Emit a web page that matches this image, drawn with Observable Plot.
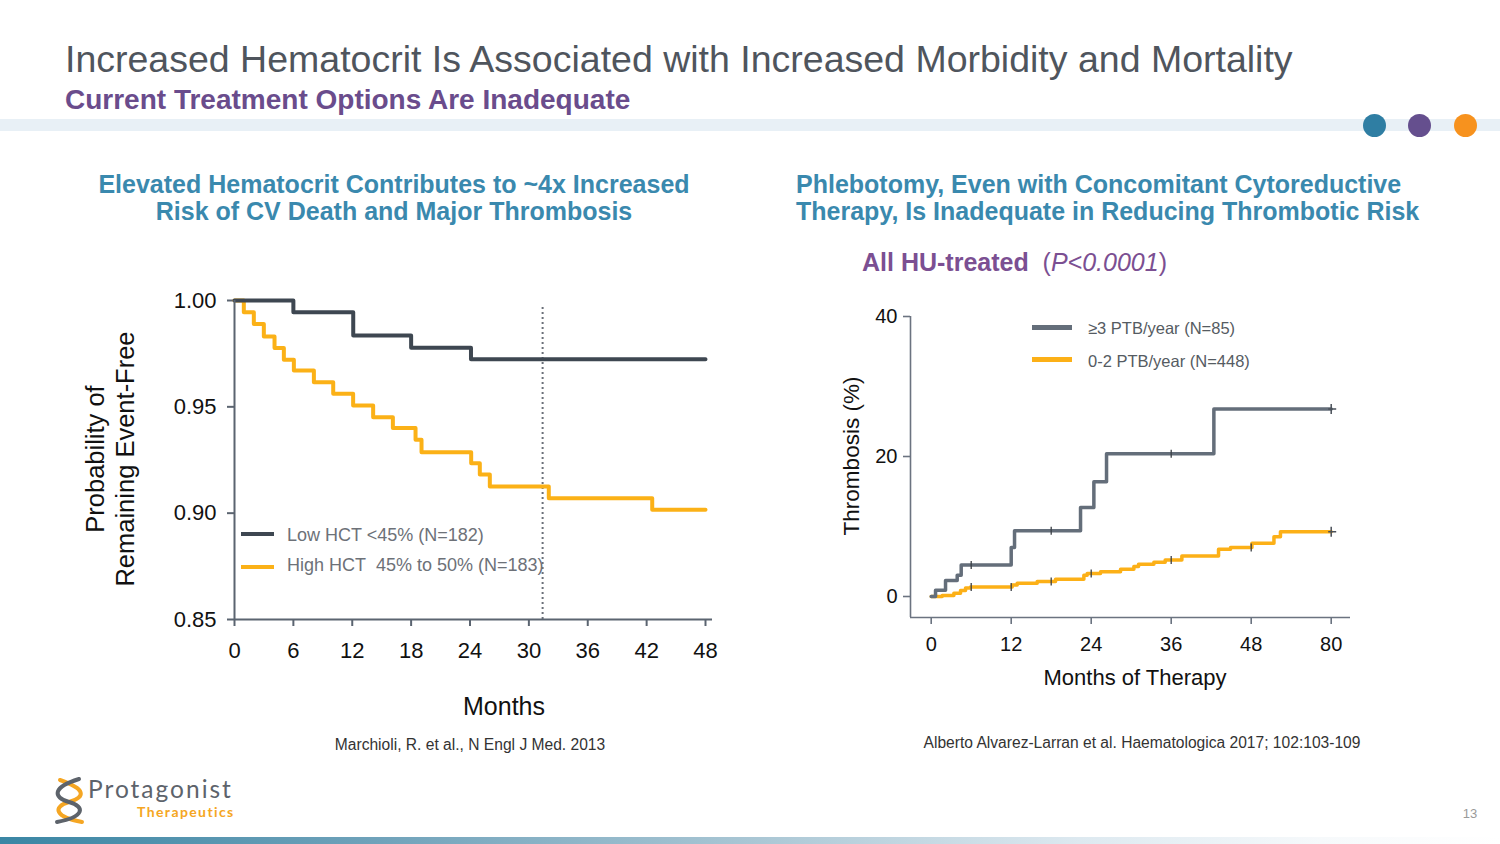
<!DOCTYPE html>
<html>
<head>
<meta charset="utf-8">
<script src="https://cdn.jsdelivr.net/npm/d3@7"></script>
<script src="https://cdn.jsdelivr.net/npm/@observablehq/plot@0.6"></script>
<style>
  html, body { margin: 0; padding: 0; }
  body { width: 1500px; height: 844px; position: relative; overflow: hidden; background: #fff;
         font-family: "Liberation Sans", Arial, Helvetica, sans-serif; }
  .abs { position: absolute; white-space: nowrap; line-height: 1; }
  .title { left: 65px; top: 41px; font-size: 37.5px; color: #4f555d; }
  .subtitle { left: 65px; top: 86px; font-size: 28px; font-weight: bold; color: #6a4c8c; }
  .band { position: absolute; left: 0; top: 119px; width: 1500px; height: 12px; background: #e8f0f6; }
  .dot { position: absolute; width: 23px; height: 23px; border-radius: 50%; top: 114px; }
  .ptitle { top: 171px; font-size: 25px; line-height: 27px; font-weight: bold; color: #3a89ae; }
  .hu { left: 862px; top: 250px; font-size: 25px; color: #7b4f92; }
  .cite { font-size: 15.6px; color: #333; transform: translate(-50%, -50%); }
  .axt { color: #111; transform: translate(-50%, -50%); }
  .rot { transform: translate(-50%, -50%) rotate(-90deg); }
  .leg { font-size: 18px; color: #6d7178; transform: translateY(-50%); }
  .sw { position: absolute; height: 4px; }
  .plotbox { position: absolute; }
  .plotbox svg { overflow: visible; }
  #leftPlot [aria-label="y-axis tick"] path, #leftPlot [aria-label="x-axis tick"] path,
  #leftPlot .tick line { stroke: #5b6470; stroke-width: 2; }
  #rightPlot [aria-label="y-axis tick"] path, #rightPlot [aria-label="x-axis tick"] path,
  #rightPlot .tick line { stroke: #6b7380; stroke-width: 1.6; }
  .bottombar { position: absolute; left: 0; top: 837px; width: 1500px; height: 7px;
    background: linear-gradient(to right, #3a86a4 0%, #6fa2ba 25%, #a9c6d4 50%, #dde9f0 72%, #f6f9fb 88%, #ffffff 100%); }
</style>
</head>
<body>
<div class="abs title">Increased Hematocrit Is Associated with Increased Morbidity and Mortality</div>
<div class="abs subtitle">Current Treatment Options Are Inadequate</div>
<div class="band"></div>
<div class="dot" style="left:1363px;background:#2f7ea3"></div>
<div class="dot" style="left:1408px;background:#654f8e"></div>
<div class="dot" style="left:1454px;background:#f7921e"></div>

<div class="abs ptitle" style="left:394px;transform:translateX(-50%);text-align:center">Elevated Hematocrit Contributes to ~4x Increased<br>Risk of CV Death and Major Thrombosis</div>
<div class="abs ptitle" style="left:796px;text-align:left">Phlebotomy, Even with Concomitant Cytoreductive<br>Therapy, Is Inadequate in Reducing Thrombotic Risk</div>
<div class="abs hu"><b>All HU-treated</b>&nbsp; (<i>P</i><i>&lt;0.0001</i>)</div>

<div id="leftPlot" class="plotbox" style="left:60px;top:280px"></div>
<div id="rightPlot" class="plotbox" style="left:820px;top:295px"></div>

<!-- left axis titles -->
<div class="abs axt rot" style="left:96px;top:459px;font-size:25.5px">Probability of</div>
<div class="abs axt rot" style="left:126px;top:459px;font-size:25.5px">Remaining Event-Free</div>
<div class="abs axt" style="left:504px;top:706px;font-size:25px">Months</div>
<!-- left legend -->
<div class="sw" style="left:241px;top:532px;width:33px;background:#3e4751"></div>
<div class="abs leg" style="left:287px;top:535px">Low HCT &lt;45% (N=182)</div>
<div class="sw" style="left:241px;top:565px;width:33px;background:#fbb117"></div>
<div class="abs leg" style="left:287px;top:565px">High HCT&nbsp; 45% to 50% (N=183)</div>

<!-- right axis titles -->
<div class="abs axt rot" style="left:852px;top:456px;font-size:22.5px">Thrombosis (%)</div>
<div class="abs axt" style="left:1135px;top:678px;font-size:22px">Months of Therapy</div>
<!-- right legend -->
<div class="sw" style="left:1032px;top:325px;width:40px;height:5px;background:#646e7a"></div>
<div class="abs leg" style="left:1088px;top:328px;font-size:16.5px;color:#555b62">≥3 PTB/year (N=85)</div>
<div class="sw" style="left:1032px;top:357px;width:40px;height:5px;background:#fcb017"></div>
<div class="abs leg" style="left:1088px;top:361px;font-size:16.5px;color:#555b62">0-2 PTB/year (N=448)</div>

<div class="abs cite" style="left:470px;top:745px">Marchioli, R. et al., N Engl J Med. 2013</div>
<div class="abs cite" style="left:1142px;top:743px">Alberto Alvarez-Larran et al. Haematologica 2017; 102:103-109</div>

<!-- logo -->
<svg style="position:absolute;left:48px;top:774px" width="44" height="54" viewBox="48 774 44 54">
  <path d="M60 780 C 86 789, 86 797, 69 802 C 52 807, 55 817, 82 822" fill="none" stroke="#f5a623" stroke-width="4" stroke-linecap="round"/>
  <path d="M79 779 C 53 787, 52 797, 69 802 C 86 807, 84 817, 57 822" fill="none" stroke="#5d636b" stroke-width="4" stroke-linecap="round"/>
</svg>
<div class="abs" style="left:88px;top:777px;font-family:Lato,'Open Sans',sans-serif;font-size:24.5px;letter-spacing:2px;color:#5d636b">Protagonist</div>
<div class="abs" style="left:137px;top:805px;font-family:Lato,'Open Sans',sans-serif;font-size:14px;letter-spacing:1.4px;font-weight:bold;color:#f5a623">Therapeutics</div>
<div class="abs" style="left:1470px;top:813px;font-size:13px;color:#9a9a9a;transform:translate(-50%,-50%)">13</div>
<div class="bottombar"></div>

<script>
// ---------- Left chart data (Kaplan–Meier, probability event-free) ----------
const leftXTicks = [0, 6, 12, 18, 24, 30, 36, 42, 48];
const leftYTicks = [0.85, 0.90, 0.95, 1.00];
const leftEnd = 48;
const followUpMonth = 31.4;     // dotted reference line
const followUpTop = 0.9967;
const lowHctT = [0, 6.0, 12.1, 18.0, 24.1];
const lowHctS = [1.0, 0.9945, 0.9835, 0.9778, 0.9724];
const highHctT = [0, 0.95, 1.97, 2.99, 4.08, 5.03, 6.05, 8.09, 10.06, 12.09, 14.13, 16.14, 18.45, 19.06, 24.12, 25.0, 26.02, 32.03, 42.57];
const highHctS = [1.0, 0.9945, 0.9890, 0.9831, 0.9777, 0.9721, 0.9671, 0.9616, 0.9561, 0.9506, 0.9451, 0.9400, 0.9345, 0.9287, 0.9235, 0.9182, 0.9125, 0.9070, 0.9016];

// ---------- Right chart data (cumulative thrombosis %) ----------
const rightXTicks = [0, 12, 24, 36, 48, 80];
const rightYTicks = [0, 20, 40];
const rightEnd = 80;
const ptb3T = [0, 0.65, 2.15, 3.9, 4.5, 12.0, 12.5, 22.4, 24.4, 26.3, 42.4];
const ptb3V = [0, 0.9, 2.3, 3.05, 4.5, 7.0, 9.4, 12.7, 16.4, 20.4, 26.8];
const ptb02T = [0, 1.65, 3.4, 4.4, 5.15, 5.9, 12.15, 12.9, 15.9, 18.65, 22.9, 23.4, 25.4, 28.4, 30.4, 31.1, 33.4, 35.1, 37.6, 43.1, 44.9, 48.3, 57.1, 59.7];
const ptb02V = [0, 0.15, 0.45, 0.85, 1.2, 1.35, 1.65, 1.9, 2.15, 2.45, 3.05, 3.3, 3.55, 3.9, 4.3, 4.6, 4.9, 5.2, 5.8, 6.75, 7.0, 7.6, 8.55, 9.25];
const ptb3Censor = [6, 18, 36];
const ptb02Censor = [6, 12, 18, 24, 36, 48];

function steps(T, V, end) {
  const pts = T.map((t, i) => ({t, v: V[i]}));
  pts.push({t: end, v: V[V.length - 1]});
  return pts;
}
function stepAt(T, V, t) {
  let v = V[0];
  for (let i = 0; i < T.length; i++) if (T[i] <= t) v = V[i];
  return v;
}
const vbar = {draw(ctx, size) { const r = Math.sqrt(size / Math.PI); ctx.moveTo(0, -r); ctx.lineTo(0, r); }};
const plus = {draw(ctx, size) { const r = Math.sqrt(size / Math.PI); ctx.moveTo(0, -r); ctx.lineTo(0, r); ctx.moveTo(-r * 0.6, 0); ctx.lineTo(r, 0); }};

const font = "'Liberation Sans', Arial, Helvetica, sans-serif";

// ---------- Left plot ----------
const leftPlot = Plot.plot({
  width: 680, height: 420,
  marginLeft: 174, marginRight: 28, marginTop: 20, marginBottom: 81,
  x: {domain: [0, leftEnd], insetRight: 7, ticks: leftXTicks, tickSize: 7, tickPadding: 16, label: null},
  y: {domain: [0.85, 1.0], ticks: leftYTicks, tickFormat: d3.format(".2f"), tickSize: 7, tickPadding: 11, label: null},
  style: {fontFamily: font, fontSize: "22px", color: "#111", background: "transparent", overflow: "visible"},
  marks: [
    Plot.ruleX([followUpMonth], {y1: 0.85, y2: followUpTop, stroke: "#6b7079", strokeWidth: 2, strokeDasharray: "2,3"}),
    Plot.line(steps(highHctT, highHctS, leftEnd), {x: "t", y: "v", curve: "step-after", stroke: "#fbb117", strokeWidth: 4}),
    Plot.line(steps(lowHctT, lowHctS, leftEnd), {x: "t", y: "v", curve: "step-after", stroke: "#3e4751", strokeWidth: 4}),
    Plot.ruleX([0], {stroke: "#5b6470", strokeWidth: 2}),
    Plot.ruleY([0.85], {stroke: "#5b6470", strokeWidth: 2})
  ]
});
document.getElementById("leftPlot").appendChild(leftPlot);

// ---------- Right plot ----------
const rW = 560, rH = 420, rML = 90, rMR = 30, rMT = 21, rMB = 98;
const rInsetL = 20.7, rStep = 80;
const rightPlot = Plot.plot({
  width: rW, height: rH,
  marginLeft: rML, marginRight: rMR, marginTop: rMT, marginBottom: rMB,
  x: {type: "linear", domain: rightXTicks, range: rightXTicks.map((d, i) => rML + rInsetL + i * rStep),
      ticks: rightXTicks, tickFormat: d => String(d), tickSize: 7, tickPadding: 12, label: null},
  y: {domain: [0, 40], insetBottom: 21, ticks: rightYTicks, tickSize: 7, tickPadding: 6, label: null},
  style: {fontFamily: font, fontSize: "20px", color: "#111", background: "transparent", overflow: "visible"},
  marks: [
    Plot.line(steps(ptb02T, ptb02V, rightEnd), {x: "t", y: "v", curve: "step-after", stroke: "#fcb017", strokeWidth: 3.5}),
    Plot.line(steps(ptb3T, ptb3V, rightEnd), {x: "t", y: "v", curve: "step-after", stroke: "#646e7a", strokeWidth: 3.5}),
    Plot.dot(ptb02Censor.map(t => ({t, v: stepAt(ptb02T, ptb02V, t)})), {x: "t", y: "v", symbol: vbar, r: 4, fill: "none", stroke: "#3a3f45", strokeWidth: 1.3}),
    Plot.dot(ptb3Censor.map(t => ({t, v: stepAt(ptb3T, ptb3V, t)})), {x: "t", y: "v", symbol: vbar, r: 4, fill: "none", stroke: "#3a3f45", strokeWidth: 1.3}),
    Plot.dot([{t: rightEnd, v: ptb02V[ptb02V.length - 1]}, {t: rightEnd, v: ptb3V[ptb3V.length - 1]}],
      {x: "t", y: "v", symbol: plus, r: 5, fill: "none", stroke: "#4a5059", strokeWidth: 1.5}),
    Plot.ruleX([0], {dx: -rInsetL, stroke: "#6b7380", strokeWidth: 1.6}),
    Plot.ruleY([0], {dy: 21, stroke: "#6b7380", strokeWidth: 1.6})
  ]
});
document.getElementById("rightPlot").appendChild(rightPlot);
</script>
</body>
</html>
